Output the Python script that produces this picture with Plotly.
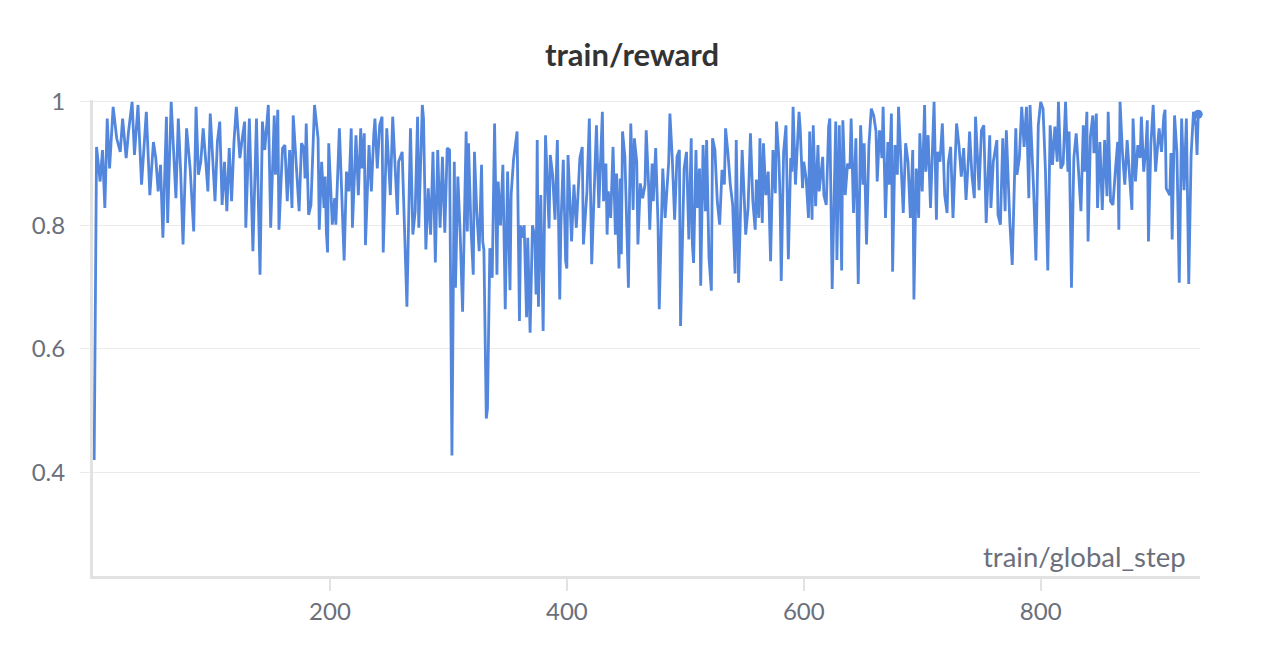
import plotly.graph_objects as go

steps = [
    1, 3, 6, 8, 10, 12, 14, 17, 20, 23, 25, 28, 30, 33, 35, 38, 41, 43, 45, 48,
    51, 53, 55, 57, 59, 62, 63, 66, 68, 70, 72, 74, 76, 79, 82, 85, 87, 89, 91, 93,
    95, 97, 99, 101, 103, 105, 107, 109, 111, 113, 115, 117, 119, 121, 124, 126, 128, 129, 132, 135,
    138, 141, 143, 145, 148, 150, 153, 154, 156, 157, 160, 162, 164, 166, 168, 169, 172, 174, 176, 178,
    179, 180, 182, 184, 187, 190, 191, 193, 195, 196, 197, 198, 199, 202, 204, 205, 208, 212, 214, 216,
    218, 219, 222, 224, 226, 227, 229, 230, 233, 235, 237, 238, 240, 242, 244, 245, 248, 251, 253, 255,
    257, 258, 261, 262, 265, 268, 270, 272, 274, 275, 278, 279, 281, 283, 285, 287, 289, 291, 293, 295,
    297, 299, 301, 303, 305, 306, 308, 310, 312, 315, 316, 317, 319, 321, 322, 324, 326, 328, 329, 330,
    332, 333, 335, 337, 339, 341, 342, 344, 346, 348, 350, 352, 353, 355, 358, 360, 361, 362, 364, 366,
    367, 369, 371, 373, 374, 375, 376, 378, 380, 382, 384, 385, 386, 388, 390, 392, 394, 395, 397, 399,
    400, 401, 404, 406, 408, 411, 413, 414, 417, 419, 421, 423, 425, 427, 430, 431, 433, 434, 435, 437,
    439, 441, 442, 444, 445, 446, 447, 449, 450, 452, 453, 454, 456, 457, 459, 460, 462, 464, 466, 467,
    469, 470, 472, 473, 475, 477, 478, 481, 483, 485, 486, 487, 489, 491, 493, 495, 496, 499, 501, 503,
    505, 506, 507, 509, 510, 512, 513, 515, 517, 518, 520, 522, 523, 525, 527, 529, 531, 533, 534, 536,
    538, 540, 542, 543, 545, 546, 548, 550, 551, 553, 555, 557, 559, 560, 562, 563, 565, 566, 568, 570,
    572, 574, 576, 577, 579, 580, 581, 583, 585, 587, 589, 590, 591, 593, 596, 597, 599, 600, 602, 604,
    605, 607, 608, 610, 612, 613, 616, 617, 619, 621, 622, 624, 626, 627, 628, 630, 632, 633, 635, 637,
    639, 640, 642, 644, 646, 648, 650, 651, 653, 655, 657, 659, 661, 662, 664, 666, 667, 669, 671, 672,
    674, 675, 677, 679, 680, 682, 684, 686, 688, 690, 692, 693, 695, 697, 698, 700, 702, 703, 705, 707,
    710, 712, 713, 715, 717, 719, 721, 722, 724, 726, 727, 729, 731, 733, 735, 737, 739, 740, 742, 744,
    745, 747, 748, 750, 752, 754, 756, 757, 758, 760, 763, 764, 766, 768, 770, 771, 774, 776, 779, 780,
    782, 784, 786, 788, 790, 791, 794, 796, 798, 800, 802, 804, 806, 808, 810, 812, 814, 815, 817, 819,
    821, 823, 824, 826, 828, 830, 832, 834, 836, 837, 839, 840, 842, 844, 845, 847, 848, 850, 852, 854,
    856, 857, 859, 861, 863, 865, 866, 867, 869, 871, 873, 875, 877, 878, 880, 882, 884, 885, 887, 889,
    890, 891, 893, 895, 897, 899, 900, 902, 904, 905, 906, 909, 910, 911, 913, 915, 917, 919, 921, 923,
    925, 927, 929, 931, 932, 933,
]

reward = [
    0.420, 0.927, 0.871, 0.922, 0.828, 0.973, 0.892, 0.992, 0.941, 0.919, 0.973, 0.909, 0.952, 1.000, 0.914, 0.995, 0.866, 0.935, 0.984, 0.849,
    0.935, 0.909, 0.855, 0.898, 0.780, 0.976, 0.804, 1.000, 0.919, 0.844, 0.973, 0.887, 0.769, 0.957, 0.892, 0.790, 0.992, 0.882, 0.903, 0.957,
    0.909, 0.855, 0.981, 0.909, 0.839, 0.935, 0.968, 0.833, 0.903, 0.823, 0.925, 0.839, 0.935, 0.992, 0.909, 0.941, 0.968, 0.796, 0.973, 0.758,
    0.973, 0.720, 0.968, 0.922, 0.995, 0.796, 0.978, 0.882, 0.987, 0.793, 0.925, 0.930, 0.839, 0.922, 0.828, 0.978, 0.892, 0.823, 0.933, 0.925,
    0.876, 0.965, 0.817, 0.833, 0.995, 0.941, 0.793, 0.903, 0.828, 0.879, 0.790, 0.756, 0.933, 0.801, 0.844, 0.801, 0.957, 0.743, 0.887, 0.855,
    0.957, 0.796, 0.946, 0.849, 0.957, 0.892, 0.949, 0.768, 0.930, 0.855, 0.946, 0.973, 0.892, 0.962, 0.976, 0.756, 0.957, 0.849, 0.976, 0.882,
    0.817, 0.903, 0.919, 0.855, 0.668, 0.957, 0.785, 0.823, 0.976, 0.796, 0.995, 0.973, 0.761, 0.860, 0.785, 0.919, 0.740, 0.922, 0.796, 0.911,
    0.788, 0.925, 0.922, 0.427, 0.903, 0.699, 0.879, 0.785, 0.660, 0.952, 0.790, 0.933, 0.800, 0.720, 0.919, 0.820, 0.758, 0.898, 0.774, 0.760,
    0.487, 0.503, 0.763, 0.715, 0.965, 0.720, 0.871, 0.800, 0.898, 0.664, 0.887, 0.695, 0.850, 0.906, 0.952, 0.645, 0.800, 0.780, 0.800, 0.651,
    0.780, 0.626, 0.800, 0.780, 0.688, 0.938, 0.668, 0.849, 0.629, 0.946, 0.823, 0.795, 0.914, 0.882, 0.809, 0.938, 0.680, 0.800, 0.906, 0.742,
    0.730, 0.914, 0.774, 0.866, 0.796, 0.909, 0.927, 0.769, 0.855, 0.973, 0.737, 0.852, 0.962, 0.828, 0.984, 0.839, 0.900, 0.785, 0.855, 0.812,
    0.927, 0.785, 0.884, 0.730, 0.876, 0.753, 0.952, 0.911, 0.823, 0.699, 0.855, 0.965, 0.825, 0.941, 0.903, 0.769, 0.868, 0.844, 0.866, 0.954,
    0.866, 0.793, 0.900, 0.839, 0.925, 0.801, 0.664, 0.892, 0.812, 0.887, 0.903, 0.981, 0.909, 0.809, 0.911, 0.922, 0.637, 0.892, 0.919, 0.777,
    0.941, 0.769, 0.739, 0.922, 0.828, 0.892, 0.702, 0.930, 0.823, 0.938, 0.747, 0.694, 0.941, 0.922, 0.839, 0.801, 0.890, 0.866, 0.957, 0.917,
    0.866, 0.833, 0.722, 0.938, 0.707, 0.777, 0.922, 0.833, 0.785, 0.828, 0.949, 0.839, 0.793, 0.874, 0.812, 0.941, 0.804, 0.933, 0.849, 0.887,
    0.742, 0.922, 0.852, 0.968, 0.909, 0.844, 0.710, 0.919, 0.962, 0.745, 0.909, 0.887, 0.992, 0.866, 0.984, 0.957, 0.860, 0.903, 0.876, 0.812,
    0.952, 0.809, 0.962, 0.831, 0.930, 0.855, 0.911, 0.849, 0.833, 0.960, 0.973, 0.697, 0.892, 0.968, 0.744, 0.962, 0.727, 0.970, 0.849, 0.900,
    0.892, 0.973, 0.820, 0.941, 0.705, 0.962, 0.866, 0.933, 0.769, 0.930, 0.989, 0.978, 0.952, 0.871, 0.954, 0.909, 0.992, 0.812, 0.935, 0.866,
    0.981, 0.725, 0.930, 0.882, 0.992, 0.909, 0.820, 0.933, 0.903, 0.812, 0.922, 0.680, 0.892, 0.812, 0.949, 0.855, 0.995, 0.887, 0.946, 0.828,
    1.000, 0.809, 0.919, 0.903, 0.965, 0.849, 0.820, 0.900, 0.927, 0.812, 0.868, 0.965, 0.930, 0.879, 0.925, 0.841, 0.909, 0.952, 0.880, 0.844,
    0.976, 0.892, 0.857, 0.954, 0.962, 0.804, 0.900, 0.946, 0.828, 0.903, 0.938, 0.817, 0.801, 0.941, 0.823, 0.954, 0.804, 0.736, 0.957, 0.882,
    0.909, 0.992, 0.927, 0.992, 0.844, 0.995, 0.860, 0.743, 0.962, 1.000, 0.989, 0.890, 0.727, 0.962, 0.898, 0.960, 0.903, 1.000, 0.892, 0.900,
    1.000, 0.887, 0.952, 0.699, 0.909, 0.949, 0.887, 0.823, 0.962, 0.887, 0.984, 0.774, 0.944, 0.978, 0.917, 0.981, 0.828, 0.935, 0.825, 0.938,
    0.847, 0.984, 0.839, 0.833, 0.887, 0.935, 0.793, 1.000, 0.919, 0.866, 0.938, 0.887, 0.825, 0.973, 0.871, 0.930, 0.909, 0.976, 0.887, 0.930,
    0.970, 0.774, 0.930, 0.995, 0.887, 0.935, 0.957, 0.919, 0.978, 0.987, 0.860, 0.849, 0.917, 0.777, 0.978, 0.919, 0.707, 0.973, 0.857, 0.973,
    0.705, 0.914, 0.984, 0.962, 0.914, 0.980,
]

x_ticks = [200, 400, 600, 800]
y_ticks = [0.4, 0.6, 0.8, 1.0]
y_tick_labels = ["0.4", "0.6", "0.8", "1"]

LINE = "#5387dd"
TXT = "#6b6f7b"
GRID = "#ebebeb"
AXIS = "#e2e2e2"
FONT = "Lato"

fig = go.Figure()
fig.add_trace(go.Scatter(
    x=steps, y=reward, mode="lines",
    line=dict(color=LINE, width=2.8),
    hoverinfo="skip", showlegend=False,
))
fig.add_trace(go.Scatter(
    x=[steps[-1]], y=[reward[-1]], mode="markers",
    marker=dict(color=LINE, size=9),
    cliponaxis=False, hoverinfo="skip", showlegend=False,
))

# page body has an 8px margin, so the figure is sized/margined to compensate
fig.update_layout(
    width=1256, height=656,
    margin=dict(l=85, r=64, t=92, b=88),
    paper_bgcolor="white", plot_bgcolor="white",
    font=dict(family=FONT, color=TXT, size=24),
    title=dict(text="<b>train/reward</b>", x=(632 - 8) / 1256, xanchor="center",
               y=1 - 47 / 656, yanchor="middle", yref="container",
               font=dict(family=FONT, size=31, color="#333333")),
    xaxis=dict(range=[0, 934.5], tickvals=x_ticks, showgrid=False, zeroline=False,
               showline=True, linecolor=AXIS, linewidth=3,
               ticks="outside", ticklen=12, tickwidth=2, tickcolor=AXIS,
               tickfont=dict(family=FONT, size=24, color=TXT)),
    yaxis=dict(range=[0.232, 1.003], tickvals=y_ticks, ticktext=y_tick_labels,
               showgrid=True, gridcolor=GRID, gridwidth=1, zeroline=False,
               showline=True, linecolor=AXIS, linewidth=3,
               ticks="outside", ticklen=10, tickwidth=1, tickcolor=GRID,
               ticklabelstandoff=10,
               tickfont=dict(family=FONT, size=24, color=TXT)),
    annotations=[dict(text="train/global_step", xref="paper", yref="paper",
                      x=0.989, y=0.042, xanchor="right", yanchor="middle",
                      showarrow=False, font=dict(family=FONT, size=27.5, color=TXT))],
)

fig.write_html("out.html")
